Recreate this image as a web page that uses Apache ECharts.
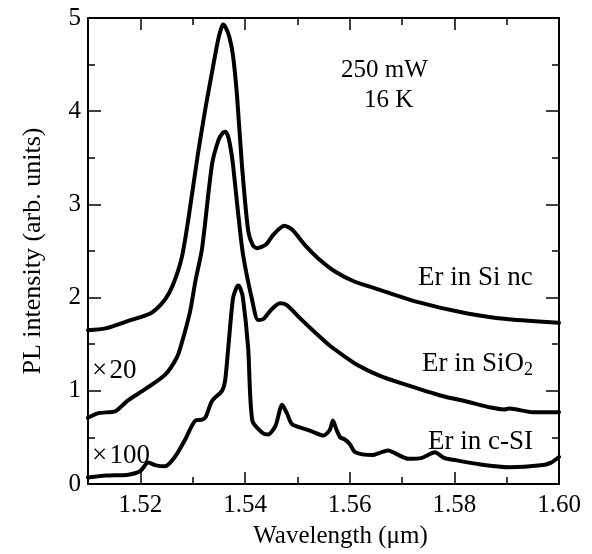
<!DOCTYPE html>
<html>
<head>
<meta charset="utf-8">
<script src="https://cdn.jsdelivr.net/npm/echarts@6/dist/echarts.min.js"></script>
<style>html,body{margin:0;padding:0;background:#fff}#c{width:592px;height:554px}</style>
</head>
<body>
<div id="c"></div>
<script>
// ---- data ----
const siNcX = [1.510,1.5133,1.5177,1.5219,1.5240,1.5255,1.5268,1.5280,1.5292,1.531,1.5325,1.5337,1.5348,1.5354,1.5358,1.5363,1.5370,1.5377,1.5385,1.5394,1.5406,1.5415,1.5423,1.544,1.5455,1.5475,1.549,1.5515,1.554,1.5572,1.561,1.5649,1.5725,1.5825,1.590,1.600];
const siNcY = [1.65,1.67,1.75,1.83,1.93,2.05,2.22,2.45,2.85,3.54,4.05,4.42,4.75,4.88,4.93,4.90,4.80,4.60,4.15,3.43,2.72,2.56,2.53,2.57,2.68,2.77,2.73,2.56,2.42,2.28,2.17,2.10,1.96,1.83,1.77,1.73];

const sio2X = [1.510,1.512,1.5152,1.5165,1.5177,1.521,1.5247,1.527,1.528,1.5295,1.5305,1.5318,1.5337,1.535,1.5358,1.5362,1.5367,1.5372,1.5377,1.5386,1.5396,1.5413,1.5425,1.5435,1.545,1.5467,1.548,1.5505,1.5535,1.5563,1.559,1.5614,1.5658,1.571,1.5773,1.582,1.587,1.5895,1.5905,1.595,1.600];
const sio2Y = [0.71,0.76,0.78,0.84,0.90,1.02,1.17,1.36,1.53,1.85,2.17,2.53,3.43,3.70,3.77,3.78,3.74,3.62,3.43,2.95,2.47,1.99,1.76,1.77,1.87,1.94,1.92,1.78,1.62,1.48,1.37,1.28,1.16,1.06,0.95,0.89,0.82,0.80,0.81,0.77,0.77];

const cSiX = [1.510,1.5135,1.5177,1.520,1.5215,1.523,1.5247,1.5266,1.5285,1.5305,1.5318,1.5325,1.5337,1.5356,1.5362,1.5368,1.5377,1.5384,1.5387,1.5391,1.5396,1.5406,1.5414,1.5433,1.5444,1.5458,1.5471,1.548,1.549,1.5515,1.553,1.555,1.5562,1.5568,1.5575,1.5582,1.559,1.560,1.5611,1.5643,1.566,1.5674,1.569,1.5712,1.5738,1.5763,1.578,1.5798,1.585,1.5905,1.5965,1.5985,1.600];
const cSiY = [0.07,0.09,0.10,0.14,0.23,0.20,0.19,0.29,0.47,0.68,0.69,0.72,0.89,1.00,1.11,1.46,1.99,2.11,2.13,2.10,2.00,1.46,0.68,0.55,0.53,0.62,0.85,0.76,0.64,0.59,0.56,0.52,0.58,0.68,0.58,0.50,0.48,0.43,0.34,0.31,0.34,0.36,0.32,0.27,0.28,0.34,0.28,0.26,0.21,0.18,0.20,0.23,0.29];

const xMajorTicks = [1.52,1.54,1.56,1.58,1.60];
const xMinorTicks = [1.51,1.53,1.55,1.57,1.59];
const xTickLabels = ['1.52','1.54','1.56','1.58','1.60'];
const yTickLabels = ['0','1','2','3','4','5'];

const FONT = "'Liberation Serif','Times New Roman',serif";
const chart = echarts.init(document.getElementById('c'), null, {renderer:'canvas'});

function pairs(xs, ys){ return xs.map((x,i)=>[x, ys[i]]); }

function xAx(pos, ticks, len, showLine, labels){
  return {
    type:'value', min:1.51, max:1.60, position:pos, gridIndex:0,
    axisLine:{show:showLine, onZero:false, lineStyle:{color:'#000', width:2}},
    axisTick:{show:true, inside:true, length:len, customValues:ticks, lineStyle:{color:'#000', width:1.5}},
    axisLabel:{show:labels, customValues:xMajorTicks, margin:9, color:'#000', fontFamily:FONT, fontSize:25,
      formatter:(v)=>{ const i = xMajorTicks.findIndex(t=>Math.abs(t-v)<1e-6); return i>=0? xTickLabels[i] : ''; }},
    splitLine:{show:false}
  };
}

const lineStyle = {color:'#000', width:4, join:'round', cap:'round'};
const mk = (name, data)=>({name, type:'line', data, smooth:0.25, showSymbol:false, symbol:'none',
  lineStyle, xAxisIndex:0, yAxisIndex:0, z:5});

chart.setOption({
  backgroundColor:'#fff',
  animation:false,
  grid:{left:88, right:33, top:18, bottom:67, containLabel:false},
  xAxis:[
    Object.assign(xAx('bottom', xMajorTicks, 12, true, true), {
      name:'Wavelength (\u03bcm)', nameLocation:'middle', nameGap:40,
      nameTextStyle:{color:'#000', fontFamily:FONT, fontSize:25, padding:[0,0,0,34]}
    }),
    xAx('bottom', xMinorTicks, 7, false, false),
    xAx('top', xMajorTicks, 12, true, false),
    xAx('top', xMinorTicks, 7, false, false)
  ],
  yAxis:[
    {type:'value', min:0, max:5, interval:1, position:'left',
     name:'PL intensity (arb. units)', nameLocation:'middle', nameGap:42,
     nameTextStyle:{color:'#000', fontFamily:FONT, fontSize:26},
     axisLine:{show:true, onZero:false, lineStyle:{color:'#000', width:2}},
     axisTick:{inside:true, length:13, lineStyle:{color:'#000', width:1.5}},
     minorTick:{show:true, splitNumber:2, length:7, lineStyle:{color:'#000', width:1.5}},
     axisLabel:{margin:7, color:'#000', fontFamily:FONT, fontSize:25, formatter:(v)=>yTickLabels[Math.round(v)]},
     splitLine:{show:false}},
    {type:'value', min:0, max:5, interval:1, position:'right',
     axisLine:{show:true, onZero:false, lineStyle:{color:'#000', width:2}},
     axisTick:{inside:true, length:13, lineStyle:{color:'#000', width:1.5}},
     minorTick:{show:true, splitNumber:2, length:7, lineStyle:{color:'#000', width:1.5}},
     axisLabel:{show:false}, splitLine:{show:false}}
  ],
  series:[
    mk('Er in Si nc', pairs(siNcX, siNcY)),
    mk('Er in SiO2', pairs(sio2X, sio2Y)),
    mk('Er in c-SI', pairs(cSiX, cSiY))
  ],
  graphic:[
    {type:'text', left:341, top:58, style:{text:'250 mW', font:'25px '+FONT, fill:'#000'}},
    {type:'text', left:364, top:88, style:{text:'16 K', font:'25px '+FONT, fill:'#000'}},
    {type:'text', left:418, top:264, style:{text:'Er in Si nc', font:'27px '+FONT, fill:'#000'}},
    {type:'text', left:422, top:350, style:{text:'{a|Er in SiO}{b|2}', rich:{a:{fontSize:27, fontFamily:FONT, color:'#000'}, b:{fontSize:18, fontFamily:FONT, color:'#000', verticalAlign:'bottom', padding:[14,0,0,0]}}}},
    {type:'text', left:428, top:428, style:{text:'Er in c-SI', font:'27px '+FONT, fill:'#000'}},
    {type:'text', left:92, top:357, style:{text:'\u00d7\u200a20', font:'27px '+FONT, fill:'#000'}},
    {type:'text', left:92, top:442, style:{text:'\u00d7\u200a100', font:'27px '+FONT, fill:'#000'}}
  ]
});
</script>
</body>
</html>
